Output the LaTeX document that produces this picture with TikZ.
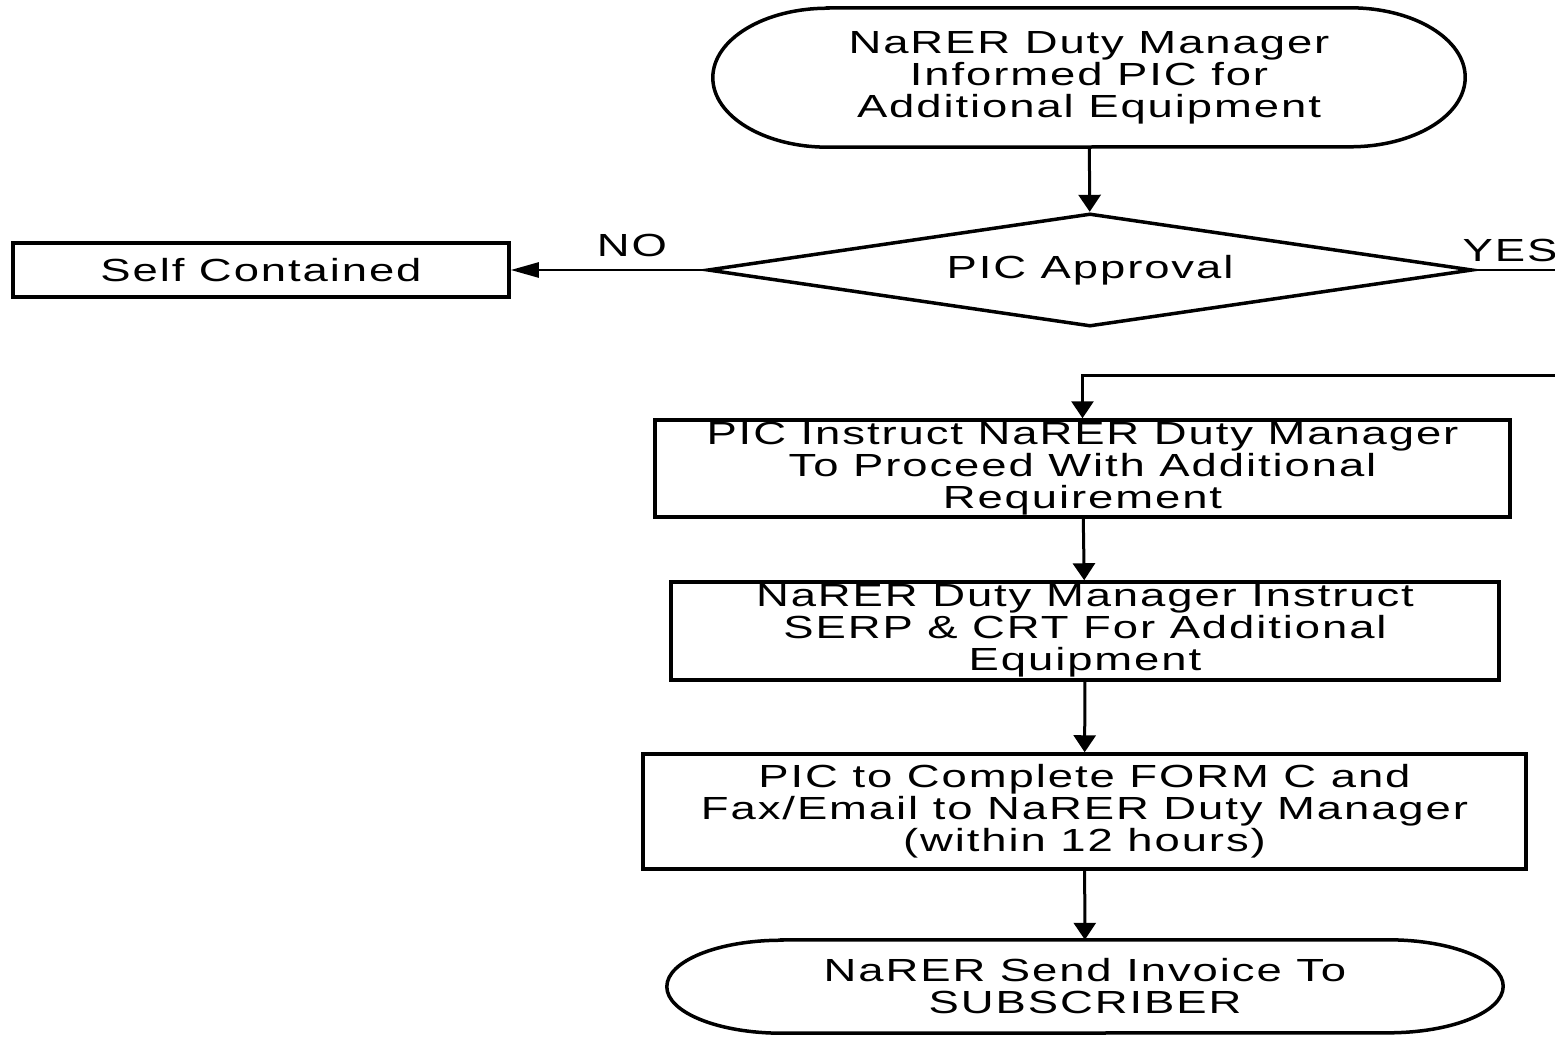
\documentclass[tikz,border=0pt]{standalone}
\usepackage{fontspec}
\setmainfont{Liberation Sans}[FakeStretch=1.42,LetterSpace=6]
\usetikzlibrary{arrows.meta,shapes.geometric,calc}

% outline of a terminal node with elliptic ends
\newcommand\termline[3]{%
  \draw[line width=3.5pt] ([xshift=#2]#1.north west) -- ([xshift=-#2]#1.north east)
    arc[start angle=90,end angle=-90,x radius=#2,y radius=#3]
    -- ([xshift=#2]#1.south west)
    arc[start angle=270,end angle=90,x radius=#2,y radius=#3] -- cycle;}

\begin{document}
\begin{tikzpicture}[
  x=1pt, y=-1pt,
  font=\fontsize{32}{32}\selectfont,
  box/.style={rectangle, draw, line width=3.5pt, align=center, inner sep=0pt},
  term/.style={rectangle, align=center, inner sep=0pt},
  dec/.style={diamond, draw, line width=3.5pt, inner sep=0pt, shape aspect=6.8},
  arr/.style={draw, line width=3pt, -{Triangle[length=17pt,width=22pt]}},
  larr/.style={draw, line width=2.5pt, -{Triangle[length=28pt,width=15pt]}},
  plain/.style={draw, line width=2.5pt}
]
\useasboundingbox (0,0) rectangle (1555,1036);

\node[term, minimum width=752pt, minimum height=139pt] (start) at (1089,77.5)
  {NaRER Duty Manager\\Informed PIC for\\Additional Equipment};
\node[dec, minimum width=765pt, minimum height=113pt] (appr) at (1090,270)
  {PIC Approval};
\node[box, minimum width=496pt, minimum height=54pt] (self) at (261,270)
  {Self Contained};
\node[box, minimum width=855pt, minimum height=97pt] (instr) at (1082.5,468.5)
  {PIC Instruct NaRER Duty Manager\\To Proceed With Additional\\Requirement};
\node[box, minimum width=828pt, minimum height=98pt] (serp) at (1085,631)
  {NaRER Duty Manager Instruct\\SERP \& CRT For Additional\\Equipment};
\node[box, minimum width=883pt, minimum height=115pt] (form) at (1084.5,811.5)
  {PIC to Complete FORM C and\\Fax/Email to NaRER Duty Manager\\(within 12 hours)};
\node[term, minimum width=836pt, minimum height=93pt] (inv) at (1085,986.5)
  {NaRER Send Invoice To\\SUBSCRIBER};
\termline{start}{115pt}{69.5pt}
\termline{inv}{115pt}{46.5pt}

\node (nolab) at (632,245) {NO};
\node (yeslab) at (1510,250) {YES};
\coordinate (yesout) at (1555,270);
\coordinate (yesin) at (1555,375);

\draw[arr] (start) -- (appr);
\draw[larr] (appr.west) -- (self.east);
\draw[plain] (appr.east) -- (yesout);
\draw[arr] (yesin) -| (instr.north);
\draw[arr] (instr) -- (serp);
\draw[arr] (serp) -- (form);
\draw[arr] (form) -- (inv);
\end{tikzpicture}
\end{document}
